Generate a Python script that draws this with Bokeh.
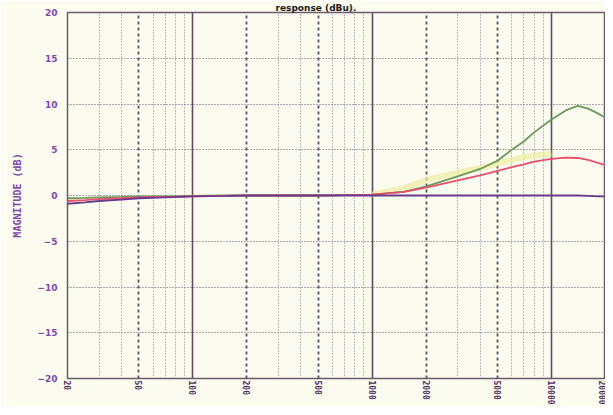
from bokeh.plotting import figure
from bokeh.models import Range1d, FixedTicker, Grid
from bokeh.embed import file_html
from bokeh.resources import INLINE

# ---- data ----
freq_hz = [20, 25, 30, 40, 50, 70, 100, 150, 200, 300, 500, 700, 1000, 1500,
           2000, 3000, 4000, 5000, 6000, 7000, 8000, 10000, 12000, 14000,
           16000, 18000, 20000]
purple_db = [-0.9, -0.75, -0.6, -0.45, -0.3, -0.2, -0.1, -0.05, 0, 0, 0, 0, 0, 0,
             0, 0, 0, 0, 0, 0, 0, 0, 0, 0, -0.05, -0.1, -0.1]
red_db = [-0.6, -0.5, -0.4, -0.3, -0.2, -0.15, -0.1, -0.05, 0, 0, 0, 0.05, 0.1, 0.4,
          0.85, 1.65, 2.2, 2.7, 3.1, 3.4, 3.7, 4.0, 4.15, 4.1, 3.9, 3.6, 3.3]
green_db = [-0.3, -0.25, -0.2, -0.15, -0.1, -0.1, -0.05, 0, 0, 0, 0, 0.05, 0.1, 0.4,
            1.0, 2.1, 2.9, 3.8, 5.0, 5.9, 6.9, 8.3, 9.3, 9.8, 9.5, 9.0, 8.5]
yellow_hz = [1000, 1500, 2000, 3000, 4000, 5000, 7000, 10000]
yellow_db = [0.1, 0.8, 1.7, 2.5, 3.0, 3.5, 4.2, 4.6]

x_ticks = [20, 50, 100, 200, 500, 1000, 2000, 5000, 10000, 20000]
x_tick_labels = ["20", "50", "100", "200", "500", "1000", "2000", "5000", "10000", "20000"]
decade_lines = [100, 1000, 10000]
dash_lines = [50, 200, 500, 2000, 5000]
dot_lines = [30, 40, 60, 70, 80, 90, 300, 400, 600, 700, 800, 900,
             3000, 4000, 6000, 7000, 8000, 9000]
y_ticks = [-20, -15, -10, -5, 0, 5, 10, 15, 20]
y_grid = [-15, -10, -5, 0, 5, 10, 15]
title_text = "response (dBu)."

BG = "#fbfbf0"
GRID = "#5e4e5e"
PURPLE = "#8048a8"

p = figure(width=605, height=407, x_axis_type="log",
           x_range=Range1d(20, 20000), y_range=Range1d(-20, 20),
           output_backend="svg", toolbar_location=None,
           background_fill_color=BG, border_fill_color=BG,
           min_border_left=67, min_border_right=0, min_border_top=0,
           min_border_bottom=0, title=title_text)
p.outline_line_color = "#6a5a6a"
p.outline_line_width = 1.5

# title, squeezed into the strip above the frame
p.title.align = "left"
p.title.offset = 208
p.title.standoff = 0
p.title.text_font = "DejaVu Sans"
p.title.text_font_style = "bold"
p.title.text_font_size = "9px"
p.title.text_color = "#1a1a1a"

# axes
p.xaxis.ticker = FixedTicker(ticks=x_ticks)
p.xaxis.major_label_overrides = {t: s for t, s in zip(x_ticks, x_tick_labels)}
p.xaxis.major_label_orientation = "vertical"
p.xaxis.major_label_text_font = "DejaVu Sans Mono"
p.xaxis.major_label_text_font_style = "bold"
p.xaxis.major_label_text_font_size = "8px"
p.xaxis.major_label_text_color = "#4a2a5a"
p.xaxis.major_label_standoff = 2
p.yaxis.ticker = FixedTicker(ticks=y_ticks)
p.yaxis.major_label_text_font = "DejaVu Sans"
p.yaxis.major_label_text_font_style = "bold"
p.yaxis.major_label_text_font_size = "9px"
p.yaxis.major_label_text_color = PURPLE
p.yaxis.major_label_standoff = 10
p.yaxis.axis_label = "MAGNITUDE (dB)"
p.yaxis.axis_label_text_font = "DejaVu Sans Mono"
p.yaxis.axis_label_text_font_style = "bold"
p.yaxis.axis_label_text_font_size = "10px"
p.yaxis.axis_label_text_color = PURPLE
p.yaxis.axis_label_standoff = 11
for ax in (p.xaxis, p.yaxis):
    ax.axis_line_color = None
    ax.major_tick_line_color = None
    ax.minor_tick_line_color = None
    ax.major_tick_out = 0
    ax.major_tick_in = 0
    ax.minor_tick_out = 0
    ax.minor_tick_in = 0

# grids
p.xgrid.ticker = FixedTicker(ticks=decade_lines)
p.xgrid.grid_line_color = GRID
p.xgrid.grid_line_width = 1.6
p.ygrid.ticker = FixedTicker(ticks=y_grid)
p.ygrid.grid_line_color = GRID
p.ygrid.grid_line_dash = "1 2"
p.ygrid.grid_line_width = 1.2
p.add_layout(Grid(dimension=0, ticker=FixedTicker(ticks=dash_lines),
                  grid_line_color=GRID, grid_line_width=1.8, grid_line_dash="3 3"))
p.add_layout(Grid(dimension=0, ticker=FixedTicker(ticks=dot_lines),
                  grid_line_color="#8a7a8a", grid_line_width=1.0, grid_line_dash="1 2"))

# curves
p.line(yellow_hz, yellow_db, line_color="#eeeea0", line_width=6, line_alpha=0.7)
p.line(freq_hz, green_db, line_color="#6a9a5a", line_width=1.8)
p.line(freq_hz, red_db, line_color="#e8506a", line_width=1.8)
p.line(freq_hz, purple_db, line_color="#6a3a8a", line_width=1.8)

open("out.html", "w").write(file_html(p, INLINE))
